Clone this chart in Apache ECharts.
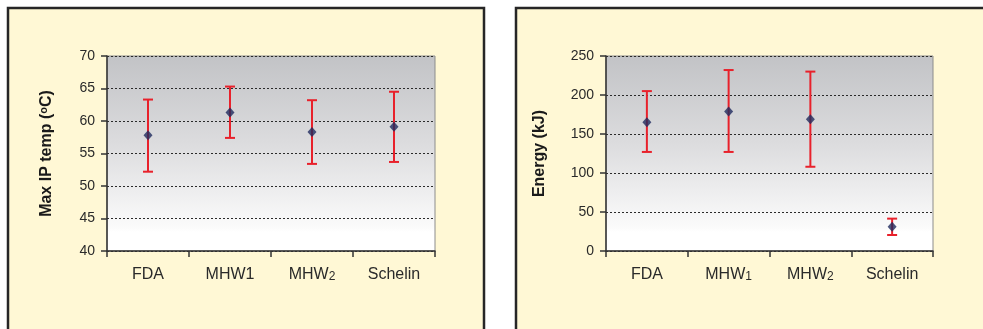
<!DOCTYPE html>
<html>
<head>
<meta charset="utf-8">
<script src="https://cdn.jsdelivr.net/npm/echarts@6/dist/echarts.min.js"></script>
<style>
html,body{margin:0;padding:0;background:#ffffff;}
#c{width:983px;height:329px;}
</style>
</head>
<body>
<div id="c"></div>
<script>
// ---- data ----
var categories = ['FDA', 'MHW1', 'MHW2', 'Schelin'];
var tempMean  = [57.8, 61.3, 58.3, 59.1];
var tempUpper = [63.3, 65.3, 63.2, 64.5];
var tempLower = [52.2, 57.4, 53.4, 53.7];
var energyMean  = [165, 179, 169, 31];
var energyUpper = [205, 232, 230, 41.5];
var energyLower = [127, 127, 108, 20.5];
var tempTicks = {min: 40, max: 70, interval: 5};
var energyTicks = {min: 0, max: 250, interval: 50};

var FONT = 'Liberation Sans, Arial, sans-serif';

function errData(lo, hi) {
  return categories.map(function (c, i) { return [i, lo[i], hi[i]]; });
}
function renderErr(params, api) {
  var x = api.value(0);
  var lo = api.coord([x, api.value(1)]);
  var hi = api.coord([x, api.value(2)]);
  var w = 5;
  var st = {stroke: '#e8212b', lineWidth: 2};
  return {
    type: 'group',
    children: [
      {type: 'line', shape: {x1: lo[0], y1: lo[1], x2: hi[0], y2: hi[1]}, style: st},
      {type: 'line', shape: {x1: lo[0] - w, y1: lo[1], x2: lo[0] + w, y2: lo[1]}, style: st},
      {type: 'line', shape: {x1: hi[0] - w, y1: hi[1], x2: hi[0] + w, y2: hi[1]}, style: st}
    ]
  };
}
var gridBg = {
  type: 'linear', x: 0, y: 0, x2: 0, y2: 1,
  colorStops: [
    {offset: 0, color: '#c2c3c6'},
    {offset: 0.45, color: '#dcdcde'},
    {offset: 0.88, color: '#fbfbfb'},
    {offset: 0.9, color: '#ffffff'},
    {offset: 1, color: '#ffffff'}
  ]
};
function xLabelFmt(subFirst) {
  return function (v) {
    if (v === 'MHW1') return subFirst ? 'MHW{sub|1}' : 'MHW1';
    if (v === 'MHW2') return 'MHW{sub|2}';
    return v;
  };
}
function xAxis(gi, subFirst) {
  return {
    type: 'category', gridIndex: gi, data: categories,
    axisLine: {lineStyle: {color: '#333333', width: 1.5}},
    axisTick: {show: true, interval: 0, length: 6, lineStyle: {color: '#333333', width: 1.5}},
    axisLabel: {
      interval: 0, margin: 16, fontSize: 16, color: '#2a2a2a', fontFamily: FONT,
      formatter: xLabelFmt(subFirst),
      rich: {sub: {fontSize: 12, color: '#2a2a2a', fontFamily: FONT, padding: [4, 0, 0, 0]}}
    }
  };
}
function yAxis(gi, t, name, gap) {
  return {
    type: 'value', gridIndex: gi, min: t.min, max: t.max, interval: t.interval,
    name: name, nameLocation: 'middle', nameGap: gap, nameRotate: 90,
    nameTextStyle: {
      fontSize: 16, fontWeight: 'bold', color: '#1a1a1a', fontFamily: FONT,
      rich: {sup: {fontSize: 11, fontWeight: 'bold', color: '#1a1a1a', fontFamily: FONT, padding: [0, 0, 7, 0]}}
    },
    axisLine: {show: true, lineStyle: {color: '#333333', width: 1.5}},
    axisTick: {show: true, length: 6, lineStyle: {color: '#333333', width: 1.5}},
    axisLabel: {margin: 12, fontSize: 14, color: '#2a2a2a', fontFamily: FONT},
    splitLine: {lineStyle: {color: '#2a2a2a', type: [2, 2], width: 1}}
  };
}

var chart = echarts.init(document.getElementById('c'), null, {renderer: 'canvas'});
chart.setOption({
  animation: false,
  backgroundColor: '#ffffff',
  graphic: [
    {type: 'rect', z: -10, shape: {x: 8, y: 8, width: 476, height: 340},
     style: {fill: '#fff8d5', stroke: '#262626', lineWidth: 2.5}},
    {type: 'rect', z: -10, shape: {x: 516, y: 8, width: 480, height: 340},
     style: {fill: '#fff8d5', stroke: '#262626', lineWidth: 2.5}}
  ],
  grid: [
    {left: 107, top: 56, width: 328, height: 195, show: true, backgroundColor: gridBg, borderColor: '#8c8c8c', borderWidth: 1},
    {left: 606, top: 56, width: 327, height: 195, show: true, backgroundColor: gridBg, borderColor: '#8c8c8c', borderWidth: 1}
  ],
  xAxis: [xAxis(0, false), xAxis(1, true)],
  yAxis: [
    yAxis(0, tempTicks, 'Max IP temp ({sup|o}C)', 51),
    yAxis(1, energyTicks, 'Energy (kJ)', 58)
  ],
  series: [
    {type: 'custom', xAxisIndex: 0, yAxisIndex: 0, renderItem: renderErr, data: errData(tempLower, tempUpper), z: 3},
    {type: 'scatter', xAxisIndex: 0, yAxisIndex: 0, data: tempMean, symbol: 'diamond', symbolSize: [9, 10],
     itemStyle: {color: '#1f2a5e'}, z: 5},
    {type: 'custom', xAxisIndex: 1, yAxisIndex: 1, renderItem: renderErr, data: errData(energyLower, energyUpper), z: 3},
    {type: 'scatter', xAxisIndex: 1, yAxisIndex: 1, data: energyMean, symbol: 'diamond', symbolSize: [9, 10],
     itemStyle: {color: '#1f2a5e'}, z: 5}
  ]
});
</script>
</body>
</html>
